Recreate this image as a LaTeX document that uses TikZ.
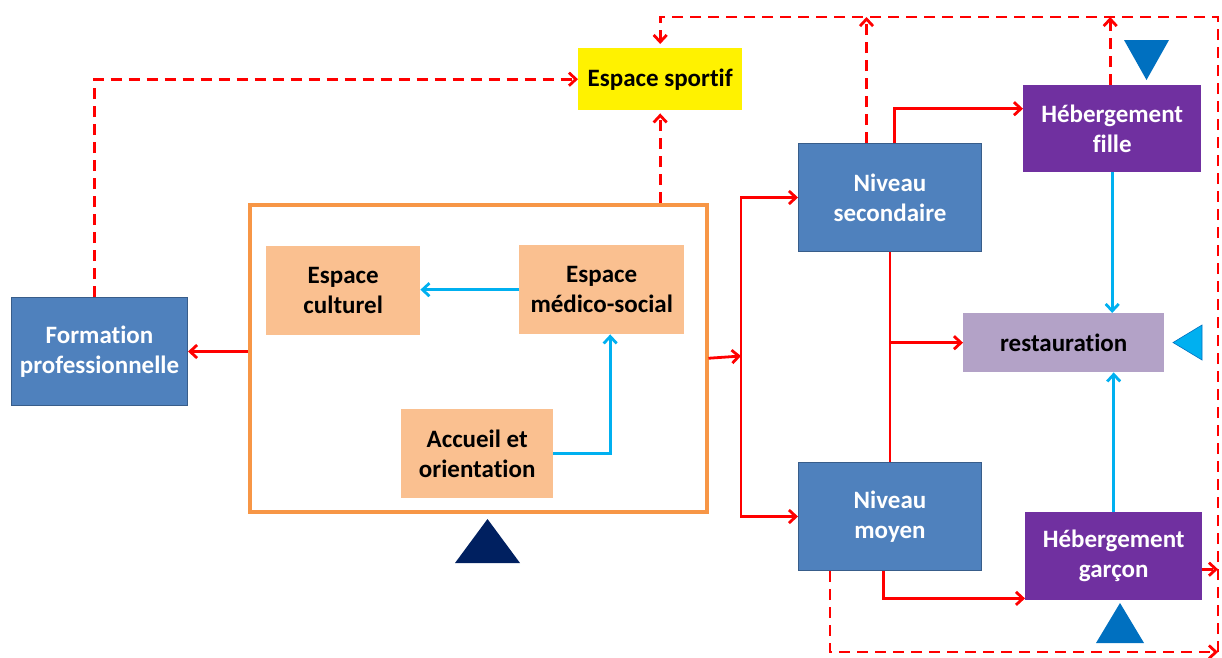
\documentclass[tikz,border=0pt]{standalone}
\usepackage{fontspec}
\setmainfont{Carlito}[Ligatures=NoCommon]
\usetikzlibrary{arrows.meta}
\definecolor{boxblue}{HTML}{4F81BD}
\definecolor{boxblueedge}{HTML}{385D8A}
\definecolor{boxpurple}{HTML}{7030A0}
\definecolor{boxpeach}{HTML}{FAC090}
\definecolor{frameorange}{HTML}{F79646}
\definecolor{boxlilac}{HTML}{B3A2C7}
\definecolor{linkred}{HTML}{FF0000}
\definecolor{linkcyan}{HTML}{00B0F0}
\definecolor{trinavy}{HTML}{002060}
\definecolor{triblue}{HTML}{0070C0}
\begin{document}
\begin{tikzpicture}[x=1pt,y=-1pt,
  every node/.style={inner sep=0pt, align=center,
    font=\fontsize{25}{30}\selectfont\bfseries},
  box/.style={anchor=north west},
  bluebox/.style={box, fill=boxblue, draw=boxblueedge, line width=1pt, text=white},
  purplebox/.style={box, fill=boxpurple, text=white},
  peachbox/.style={box, fill=boxpeach, text=black},
  barb/.tip={Straight Barb[length=7pt,width=13pt,line width=2.8pt]},
  redlink/.style={-barb, draw=linkred, line width=2.8pt, line join=miter},
  reddash/.style={redlink, dash pattern=on 11pt off 7pt},
  cyanlink/.style={-barb, draw=linkcyan, line width=2.6pt}]
\useasboundingbox (0,0) rectangle (1222,657);

% boxes
\node[box, fill=yellow, minimum width=164pt, minimum height=62pt] (es) at (578,48) {Espace sportif};
\node[bluebox, minimum width=176pt, minimum height=108pt] (fp) at (11,297) {Formation\\professionnelle};
\node[box, draw=frameorange, line width=3.5pt, minimum width=457pt, minimum height=307pt] (fr) at (248,203) {};
\node[peachbox, minimum width=154pt, minimum height=89pt] (cu) at (266,246) {Espace\\culturel};
\node[peachbox, minimum width=165pt, minimum height=89pt] (mc) at (519,245) {Espace\\médico-social};
\node[peachbox, minimum width=152pt, minimum height=89pt] (ac) at (401,409) {Accueil et\\orientation};
\node[bluebox, minimum width=183pt, minimum height=108pt] (ns) at (798,143) {Niveau\\secondaire};
\node[bluebox, minimum width=183pt, minimum height=108pt] (nm) at (798,462) {Niveau\\moyen};
\node[purplebox, minimum width=178pt, minimum height=87pt] (hf) at (1023,85) {Hébergement\\fille};
\node[purplebox, minimum width=177pt, minimum height=88pt] (hg) at (1025,512) {Hébergement\\garçon};
\node[box, fill=boxlilac, minimum width=201pt, minimum height=59pt] (rs) at (963,313) {restauration};

% triangles
\fill[trinavy] (455,563) -- (520,563) -- (487.5,519) -- cycle;
\fill[triblue] (1124,40) -- (1169,40) -- (1146.5,80) -- cycle;
\filldraw[fill=linkcyan, draw=triblue, line width=0.6pt] (1202,325) -- (1202,360) -- (1173,342.5) -- cycle;
\fill[triblue] (1096,643) -- (1144,643) -- (1120,603) -- cycle;

% solid red links
\coordinate (jn) at (741,356);
\draw[redlink] (fp.east -| fr.west) -- (fp.east);
\draw[redlink] (fr.east) -- (jn);
\draw[redlink, barb-barb] (ns.west) -| (jn) |- (nm.west);
\draw[redlink] ([xshift=4.5pt]ns.north) |- ([yshift=20pt]hf.west);
\draw[draw=linkred, line width=2.8pt] (ns.south) -- (nm.north);
\draw[redlink] (rs.west -| ns.south) -- (rs.west);
\draw[redlink] ([xshift=-6.5pt]nm.south) |- ([yshift=2pt]hg.south west);

% cyan links
\draw[cyanlink] (mc.west) -- (mc.west -| cu.east);
\draw[cyanlink] (ac.east) -| ([xshift=8.5pt]mc.south);
\draw[cyanlink] (hf.south) -- (hf.south |- rs.north);
\draw[cyanlink] (hg.north) -- (hg.north |- rs.south);

% dashed red links
\coordinate (tr) at (1218,17);
\coordinate (br) at (1218,652);
\draw[reddash] ([xshift=-5pt]fp.north) |- (es.west);
\draw[reddash, shorten >=3pt] (es.south |- fr.north) -- (es.south);
\draw[reddash] ([xshift=-23.5pt]ns.north) -- ([xshift=-23.5pt]ns.north |- tr);
\draw[reddash] ([xshift=-2pt]hf.north) -- ([xshift=-2pt]hf.north |- tr);
\draw[reddash] ([yshift=-13pt]hg.east) -- ([yshift=-13pt]hg.east -| br);
\draw[reddash] ([xshift=32pt]nm.south west) |- (br);
\draw[reddash, shorten >=4pt] (br) -- (tr) -| (es.north);
\end{tikzpicture}
\end{document}
